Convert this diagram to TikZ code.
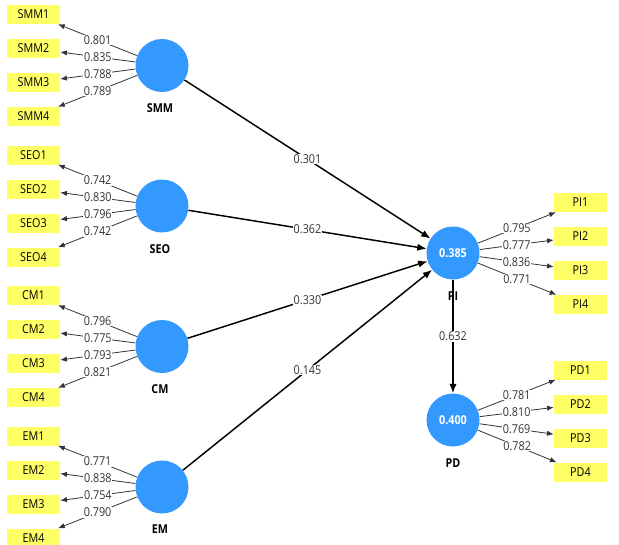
\documentclass[tikz,border=0pt]{standalone}
\usepackage{fontspec}
\setmainfont{Open Sans}[FakeStretch=0.88]
\usetikzlibrary{arrows.meta}
\definecolor{lvblue}{RGB}{51,153,255}
\definecolor{indyellow}{RGB}{255,255,102}
\begin{document}
\begin{tikzpicture}[x=0.75pt,y=-0.75pt,
 lv/.style={circle,fill=lvblue,minimum size=39.75pt,inner sep=0pt,text=white,font=\bfseries\fontsize{9.2}{10}\selectfont},
 ind/.style={fill=indyellow,minimum width=39.75pt,minimum height=14.25pt,inner sep=0pt,font=\fontsize{9.2}{10}\selectfont},
 lvname/.style={font=\bfseries\fontsize{9.2}{10}\selectfont},
 load/.style={draw=black!80,line width=0.6pt,-{Latex[length=5pt,width=4pt]}},
 pathc/.style={draw=black,line width=1.1pt,-{Latex[length=7pt,width=5.5pt]}},
 val/.style={fill=white,inner sep=0.5pt,font=\fontsize{9.2}{10}\selectfont,text=black!80}
]
\useasboundingbox (0,0) rectangle (619,544);
% latent variables
\node[lv] (SMM) at (162,65.5) {};
\node[lv] (SEO) at (162,206) {};
\node[lv] (CM) at (162,346.5) {};
\node[lv] (EM) at (162,487) {};
\node[lv] (PI) at (453,253) {0.385};
\node[lv] (PD) at (453,420) {0.400};
% names
\node[lvname] (nSMM) at (160,108) {SMM};
\node[lvname] (nSEO) at (160,249) {SEO};
\node[lvname] (nCM) at (160,389) {CM};
\node[lvname] (nEM) at (160,529) {EM};
\node[lvname] (nPI) at (453,296) {PI};
\node[lvname] (nPD) at (453,463) {PD};
% left indicators
\foreach \lvn/\ya/\yb/\yc/\yd/\la/\lb/\lc/\ld in {
 SMM/14.5/48.5/82.5/116.5/0.801/0.835/0.788/0.789,
 SEO/155/189/223/257/0.742/0.830/0.796/0.742,
 CM/295.5/329.5/363.5/397.5/0.796/0.775/0.793/0.821,
 EM/436/470/504/538/0.771/0.838/0.754/0.790}{
 \node[ind] (\lvn1) at (33.5,\ya) {\lvn1};
 \node[ind] (\lvn2) at (33.5,\yb) {\lvn2};
 \node[ind] (\lvn3) at (33.5,\yc) {\lvn3};
 \node[ind] (\lvn4) at (33.5,\yd) {\lvn4};
 \draw[load] (\lvn) -- node[val]{\la} (\lvn1);
 \draw[load] (\lvn) -- node[val]{\lb} (\lvn2);
 \draw[load] (\lvn) -- node[val]{\lc} (\lvn3);
 \draw[load] (\lvn) -- node[val]{\ld} (\lvn4);
}
% right indicators
\foreach \lvn/\ya/\yb/\yc/\yd/\la/\lb/\lc/\ld in {
 PI/202.5/236.5/270.5/304.5/0.795/0.777/0.836/0.771,
 PD/370/404/438/472/0.781/0.810/0.769/0.782}{
 \node[ind] (\lvn1) at (580.5,\ya) {\lvn1};
 \node[ind] (\lvn2) at (580.5,\yb) {\lvn2};
 \node[ind] (\lvn3) at (580.5,\yc) {\lvn3};
 \node[ind] (\lvn4) at (580.5,\yd) {\lvn4};
 \draw[load] (\lvn) -- node[val]{\la} (\lvn1);
 \draw[load] (\lvn) -- node[val]{\lb} (\lvn2);
 \draw[load] (\lvn) -- node[val]{\lc} (\lvn3);
 \draw[load] (\lvn) -- node[val]{\ld} (\lvn4);
}
% structural paths
\draw[pathc] (SMM) -- node[val]{0.301} (PI);
\draw[pathc] (SEO) -- node[val]{0.362} (PI);
\draw[pathc] (CM) -- node[val]{0.330} (PI);
\draw[pathc] (EM) -- node[val]{0.145} (PI);
\draw[pathc] (PI) -- node[val]{0.632} (PD);
\end{tikzpicture}
\end{document}
